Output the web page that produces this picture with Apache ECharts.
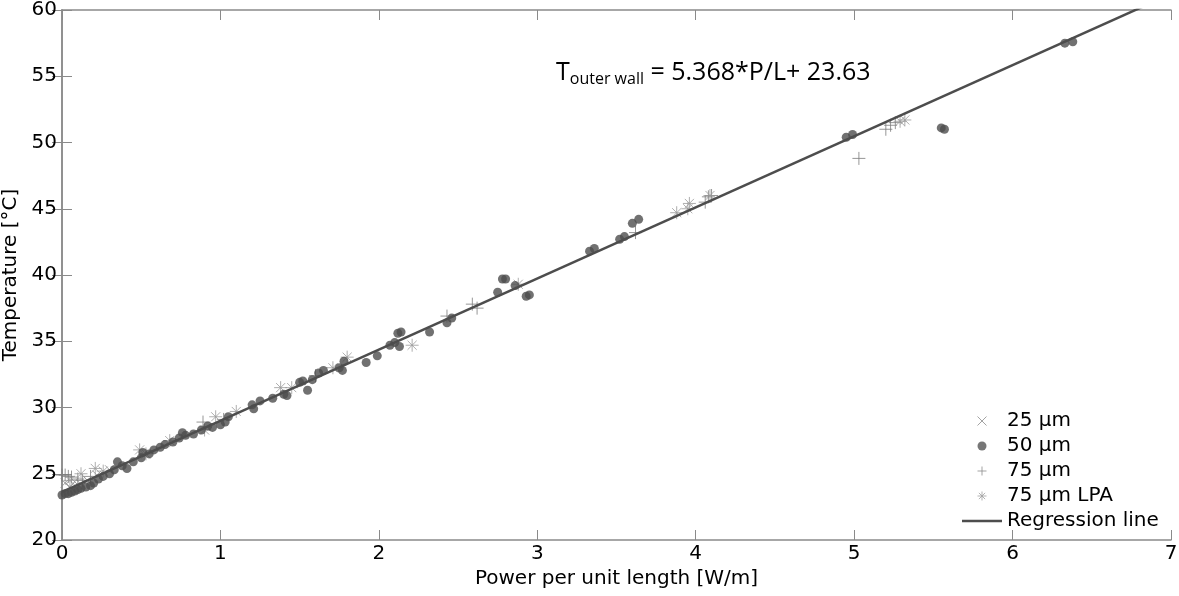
<!DOCTYPE html>
<html>
<head>
<meta charset="utf-8">
<script src="https://cdn.jsdelivr.net/npm/echarts@6/dist/echarts.min.js"></script>
<style>
  html, body {margin:0;padding:0;background:#fff;}
  #chart {width:1179px;height:596px;}
</style>
</head>
<body>
<div id="chart"></div>
<script>
// regression fit printed on the figure
const slope = 5.368
const intercept = 23.63

const xTicks = [0, 1, 2, 3, 4, 5, 6, 7]
const yTicks = [20, 25, 30, 35, 40, 45, 50, 55, 60]

const seriesNames = ['25 µm', '50 µm', '75 µm', '75 µm LPA', 'Regression line']

// [power per unit length, temperature]
const pts25 = [
  [0.02, 24.3], [0.05, 24.0], [0.08, 24.4], [0.12, 24.2], [0.16, 24.5], [0.22, 24.9], [0.30, 25.3]
]
const pts50 = [
  [0.00, 23.4], [0.02, 23.5], [0.04, 23.5], [0.06, 23.6], [0.08, 23.7], [0.10, 23.8], [0.12, 23.9],
  [0.15, 24.0], [0.18, 24.1], [0.20, 24.3], [0.23, 24.6], [0.26, 24.8], [0.30, 25.0], [0.33, 25.3],
  [0.35, 25.9], [0.38, 25.6], [0.41, 25.4], [0.45, 25.9], [0.50, 26.2], [0.51, 26.6], [0.55, 26.5],
  [0.58, 26.8], [0.62, 27.0], [0.65, 27.2], [0.70, 27.4], [0.74, 27.7], [0.76, 28.1], [0.78, 27.9],
  [0.83, 28.0], [0.88, 28.3], [0.92, 28.6], [0.95, 28.5], [1.00, 28.7], [1.03, 28.9], [1.05, 29.3],
  [1.20, 30.2], [1.21, 29.9], [1.25, 30.5], [1.33, 30.7], [1.40, 31.0], [1.42, 30.9], [1.50, 31.9],
  [1.52, 32.0], [1.55, 31.3], [1.58, 32.1], [1.62, 32.6], [1.65, 32.8], [1.75, 33.0], [1.77, 32.8],
  [1.78, 33.5], [1.92, 33.4], [1.99, 33.9], [2.07, 34.7], [2.10, 34.9], [2.12, 35.6], [2.14, 35.7],
  [2.13, 34.6], [2.32, 35.7], [2.43, 36.4], [2.46, 36.75], [2.75, 38.7], [2.78, 39.7], [2.80, 39.7],
  [2.86, 39.2], [2.93, 38.4], [2.95, 38.5], [3.33, 41.8], [3.36, 42.0], [3.52, 42.7], [3.55, 42.9],
  [3.60, 43.9], [3.64, 44.2], [4.95, 50.4], [4.99, 50.6], [5.55, 51.1], [5.57, 51.0], [6.33, 57.5],
  [6.38, 57.6]
]
const pts75 = [
  [0.00, 24.9], [0.02, 24.9], [0.04, 24.8], [0.06, 24.75], [0.10, 24.6], [0.13, 24.5], [0.18, 24.8],
  [0.89, 28.9], [1.02, 29.1], [1.60, 32.4], [2.43, 36.9], [2.59, 37.8], [2.62, 37.5], [3.62, 43.2],
  [4.06, 45.5], [4.08, 45.9], [4.10, 46.0], [5.03, 48.8], [5.20, 51.0], [5.23, 51.3], [5.26, 51.5]
]
const pts75lpa = [
  [0.05, 24.5], [0.12, 25.0], [0.21, 25.4], [0.26, 25.2], [0.49, 26.8], [0.53, 26.5], [0.68, 27.5],
  [0.90, 28.3], [0.97, 29.3], [1.10, 29.7], [1.38, 31.5], [1.45, 31.5], [1.71, 33.0], [1.80, 33.8],
  [2.21, 34.7], [2.88, 39.3], [3.88, 44.7], [3.95, 45.0], [3.96, 45.4], [4.09, 46.0], [5.29, 51.6],
  [5.32, 51.7]
]

const xMin = xTicks[0], xMax = xTicks[xTicks.length - 1]
const yMin = yTicks[0], yMax = yTicks[yTicks.length - 1]
const fitLine = [[xMin, intercept + slope * xMin], [xMax, intercept + slope * xMax]]

const SYM_X = 'path://M0,0L10,10M0,10L10,0'
const SYM_PLUS = 'path://M5,0L5,10M0,5L10,5'
const SYM_STAR = 'path://M5,0L5,10M0,5L10,5M1.5,1.5L8.5,8.5M1.5,8.5L8.5,1.5'
const SYM_BAR = 'path://M0,0L40,0L40,2.5L0,2.5Z'

const FONT = 'DejaVu Sans, sans-serif'
const axisGray = '#8a8a8a'
const dark = '#4d4d4d'

const chart = echarts.init(document.getElementById('chart'))

function strokeSym(color) {
  return {color: 'none', borderColor: color, borderWidth: 1}
}

const baseAxis = {
  axisLine: {show: true, lineStyle: {color: axisGray, width: 1.5}},
  axisTick: {show: true, inside: true, length: 10, lineStyle: {color: axisGray}},
  splitLine: {show: false}
}

chart.setOption({
  animation: false,
  grid: {left: 62, right: 8, top: 10, bottom: 56, containLabel: false, outerBoundsMode: 'none'},
  legend: {
    orient: 'vertical',
    left: 957,
    top: 406,
    itemWidth: 40,
    itemHeight: 9,
    itemGap: 5,
    symbolKeepAspect: true,
    textStyle: {fontFamily: FONT, fontSize: 20, color: '#000', lineHeight: 20},
    data: [
      {name: seriesNames[0], icon: SYM_X, itemStyle: strokeSym('#8c8c8c')},
      {name: seriesNames[1], icon: 'circle', itemStyle: {color: '#555'}},
      {name: seriesNames[2], icon: SYM_PLUS, itemStyle: strokeSym('#8c8c8c')},
      {name: seriesNames[3], icon: SYM_STAR, itemStyle: strokeSym('#a0a0a0')},
      {name: seriesNames[4], icon: SYM_BAR, itemStyle: {color: dark}}
    ]
  },
  xAxis: [
    Object.assign({}, baseAxis, {
      type: 'value', min: xMin, max: xMax, interval: 1,
      axisLabel: {fontFamily: FONT, fontSize: 20, color: '#000', margin: 4},
      name: 'Power per unit length [W/m]', nameLocation: 'middle', nameGap: 28,
      nameTextStyle: {fontFamily: FONT, fontSize: 20, color: '#000'}
    }),
    Object.assign({}, baseAxis, {
      type: 'value', position: 'top', min: xMin, max: xMax, interval: 1,
      axisLabel: {show: false}
    })
  ],
  yAxis: [
    Object.assign({}, baseAxis, {
      type: 'value', min: yMin, max: yMax, interval: 5,
      axisLabel: {fontFamily: FONT, fontSize: 20, color: '#000', margin: 5},
      name: 'Temperature [°C]', nameLocation: 'middle', nameGap: 35,
      nameTextStyle: {fontFamily: FONT, fontSize: 20, color: '#000'}
    }),
    Object.assign({}, baseAxis, {
      type: 'value', position: 'right', min: yMin, max: yMax, interval: 5,
      axisLabel: {show: false}
    })
  ],
  series: [
    {
      name: seriesNames[0], type: 'scatter', symbol: SYM_X, symbolSize: 9,
      itemStyle: strokeSym('#8c8c8c'), data: pts25, z: 2
    },
    {
      name: seriesNames[2], type: 'scatter', symbol: SYM_PLUS, symbolSize: 13,
      itemStyle: strokeSym('#7c7c7c'), data: pts75, z: 3
    },
    {
      name: seriesNames[3], type: 'scatter', symbol: SYM_STAR, symbolSize: 13,
      itemStyle: strokeSym('#9a9a9a'), data: pts75lpa, z: 3
    },
    {
      name: seriesNames[1], type: 'scatter', symbol: 'circle', symbolSize: 9,
      itemStyle: {color: dark}, data: pts50, z: 4
    },
    {
      name: seriesNames[4], type: 'line', symbol: 'none', clip: true,
      itemStyle: {color: dark},
      lineStyle: {color: dark, width: 2.5}, data: fitLine, z: 5
    }
  ],
  graphic: [{
    type: 'text', left: 556, top: 59, z: 10,
    style: {
      text: '{t|T}{s|outer wall}{t| = 5.368*P/L+ 23.63}',
      rich: {
        t: {fontFamily: 'Open Sans, sans-serif', fontSize: 25, color: '#000', lineHeight: 32},
        s: {fontFamily: 'Open Sans, sans-serif', fontSize: 16, color: '#000', lineHeight: 32, padding: [12, 0, 0, 0]}
      }
    }
  }]
})
</script>
</body>
</html>
